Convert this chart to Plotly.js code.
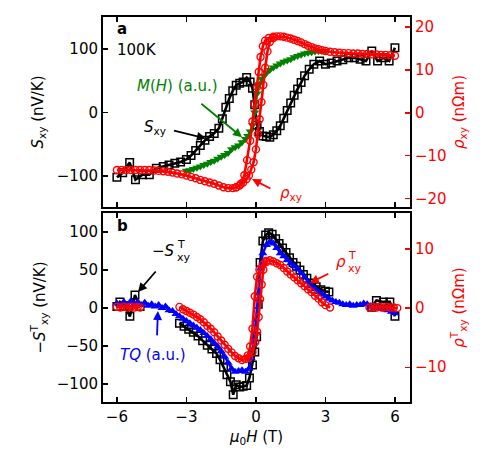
<!DOCTYPE html>
<html>
<head>
<meta charset="utf-8">
<script src="https://cdn.plot.ly/plotly-3.0.1.min.js"></script>
<style>
  html, body { margin: 0; padding: 0; background: #fff; }
  #chart { width: 502px; height: 473px; }
</style>
</head>
<body>
<div id="chart"></div>
<script>
// ---- panel a: 100 K field sweeps ----
const H_sxy = [-6.0,-5.75,-5.45,-5.2,-4.9,-4.6,-4.3,-4.0,-3.75,-3.5,-3.25,-3.0,-2.8,-2.6,-2.4,-2.2,-2.0,-1.8,-1.6,-1.45,-1.3,-1.15,-1.0,-0.85,-0.7,-0.55,-0.4,-0.25,-0.15,-0.05,0.05,0.15,0.3,0.45,0.6,0.75,0.9,1.05,1.2,1.35,1.5,1.65,1.8,1.95,2.1,2.3,2.5,2.75,3.0,3.25,3.5,3.75,4.0,4.25,4.5,4.75,5.0,5.25,5.5,5.75,6.0];
const S_xy  = [-102,-95,-79,-106,-98,-98,-88,-85,-83,-80,-78,-74,-68,-60,-52,-44,-38,-33,-25,-10,8,22,34,43,46,48,55,48,38,12,-20,-30,-37,-38,-39,-35,-29,-21,-9,3,15,27,37,47,58,68,76,81,76,78,81,83,86,86,84,81,97,81,86,81,102];

const H_mag = [-3.0,-2.85,-2.7,-2.55,-2.4,-2.25,-2.1,-1.95,-1.8,-1.65,-1.5,-1.35,-1.2,-1.05,-0.9,-0.75,-0.6,-0.45,-0.35,-0.25,-0.15,-0.05,0.05,0.15,0.25,0.35,0.45,0.6,0.75,0.9,1.05,1.2,1.35,1.5,1.65,1.8,1.95,2.1,2.25,2.4,2.55,2.7,2.85,3.0];
const M_H   = [-92,-91,-89,-87,-85,-83,-81,-78,-76,-73,-70,-67,-64,-58,-55,-52,-47,-42,-37,-30,-20,0,30,45,53,58,62,67,71,74,77,80,82,84,87,89,91,93,94,95,96,97,97,97];

const H_rho1 = [-6.0,-5.8,-5.6,-5.4,-5.2,-5.0,-4.8,-4.6,-4.4,-4.2,-4.0,-3.8,-3.6,-3.4,-3.2,-3.0,-2.8,-2.6,-2.4,-2.2,-2.0,-1.8,-1.6,-1.4,-1.2,-1.0,-0.85,-0.7,-0.55,-0.4,-0.3,-0.2,-0.1,0.0,0.08,0.16,0.24,0.32,0.4,0.5,0.6,0.75,0.9,1.05,1.2,1.35,1.5,1.65,1.8,1.95,2.1,2.25,2.4,2.55,2.7,2.85,3.0,3.2,3.4,3.6,3.8,4.0,4.2,4.4,4.6,4.8,5.0,5.2,5.4,5.6,5.8,6.0];
const RHO1   = [-13.3,-13.3,-13.3,-13.3,-13.3,-13.3,-13.3,-13.3,-13.4,-13.5,-13.6,-13.7,-13.9,-14.1,-14.3,-14.6,-14.9,-15.2,-15.6,-15.9,-16.2,-16.5,-16.9,-17.3,-17.5,-17.5,-17.3,-16.9,-16.2,-15.4,-14.6,-13.2,-11.5,-8.5,-5,-1.5,2.5,6.5,10.5,14.3,16.5,17.4,17.8,17.8,17.7,17.5,17.3,17.0,16.7,16.4,16.0,15.6,15.3,15.0,14.8,14.6,14.4,14.2,14.1,14.0,13.9,13.9,13.8,13.8,13.7,13.7,13.6,13.6,13.5,13.5,13.4,13.3];
const H_rho2 = [-0.85,-0.65,-0.5,-0.38,-0.25,-0.15,-0.05,0.05,0.12,0.2,0.3,0.4,0.55,0.75];
const RHO2   = [-17.3,-16.5,-14.5,-11,-6.5,-2,2,6,9.5,13,15.5,16.8,17.4,17.7];

// ---- panel b: topological parts ----
const H_st = [-6.0,-5.87,-5.65,-5.44,-5.22,-5.0,null,-3.3,-3.1,-2.9,-2.7,-2.5,-2.3,-2.1,-1.9,-1.7,-1.55,-1.4,-1.25,-1.1,-0.98,-0.85,-0.7,-0.55,-0.4,-0.28,-0.15,-0.05,0.03,0.1,0.18,0.3,0.42,0.55,0.7,0.85,1.0,1.15,1.3,1.45,1.6,1.75,1.9,2.05,2.2,2.4,2.6,2.8,3.0,3.15,null,5.0,5.2,5.5,5.78,6.0];
const ST   = [2,8,3,-11,17,2,null,-20,-24,-28,-32,-37,-43,-49,-54,-60,-68,-78,-88,-97,-114,-101,-104,-103,-102,-92,-75,-58,-38,5,60,88,96,99,97,91,85,79,73,66,60,55,50,44,39,33,28,24,22,21,null,1,10,8,8,-11];

const H_tq = [-6.0,-5.85,-5.7,-5.55,-5.4,-5.25,-5.1,-4.95,-4.8,-4.65,-4.5,-4.35,-4.2,-4.05,-3.9,-3.75,-3.6,-3.45,-3.3,-3.15,-3.0,-2.85,-2.7,-2.55,-2.4,-2.25,-2.1,-1.95,-1.8,-1.65,-1.5,-1.35,-1.2,-1.05,-0.9,-0.75,-0.6,-0.45,-0.3,-0.2,-0.1,0.0,0.1,0.2,0.3,0.45,0.6,0.75,0.9,1.05,1.2,1.35,1.5,1.65,1.8,1.95,2.1,2.25,2.4,2.55,2.7,2.85,3.0,3.15,3.3,3.45,3.6,3.75,3.9,4.05,4.2,4.35,4.5,4.65,4.8,4.95,5.1,5.25,5.4,5.55,5.7,5.85,6.0];
const TQ   = [6,3,8,4,9,5,8,4,7,3,5,2,4,0,2,-3,-4,-8,-11,-14,-17,-20,-23,-26,-29,-33,-37,-41,-46,-51,-57,-64,-72,-80,-84,-83,-82,-84,-80,-66,-45,-15,19,52,72,83,87,85,79,72,68,63,59,55,51,46,40,34,29,25,21,18,15,12,10,8,7,5,4,5,3,4,4,6,5,2,0,1,-1,-2,-3,-5,-7];

const H_rt1 = [-6.0,-5.85,-5.7,-5.55,-5.4,-5.25,-5.1,-5.0,null,-3.3,-3.15,-3.0,-2.85,-2.7,-2.55,-2.4,-2.25,-2.1,-1.95,-1.8,-1.65,-1.5,-1.35,-1.2,-1.05,-0.9,-0.75,-0.6,-0.45,-0.35,-0.25,-0.15,-0.05,0.05,0.15,0.3,0.45,0.6,0.75,0.9,1.05,1.2,1.35,1.5,1.65,1.8,1.95,2.1,2.25,2.4,2.55,2.7,2.85,3.0,3.2,null,4.9,5.05,5.2,5.35,5.5,5.65,5.8,5.95,6.1];
const RT1   = [0.2,0.1,0.2,0.1,0.2,0.1,0.2,0.1,null,0.2,-0.2,-0.5,-0.8,-1.1,-1.5,-1.9,-2.4,-3.0,-3.5,-4.1,-4.8,-5.5,-6.2,-6.9,-7.5,-8.1,-8.5,-8.8,-8.6,-8.0,-6.5,-3.5,2.0,5.3,6.5,7.4,8.0,8.1,7.9,7.6,7.3,6.8,6.2,5.7,5.2,4.7,4.2,3.7,3.2,2.7,2.1,1.6,1.0,0.5,0.1,null,0.1,0.2,0.1,0.2,0.1,0.2,0.1,0.1,0.0];
const H_rt2 = [-0.45,-0.3,-0.15,-0.03,0.05,0.12,0.18,0.25,0.32,0.45];
const RT2   = [-8.6,-8.4,-7.5,-5.8,-4,-1.5,1.5,4,6.5,7.8];

const xTicks = [-6,-3,0,3,6];

const BLACK = '#000000', RED = '#ff0000', GREEN = '#008000', BLUE = '#0000ff';
const FONT = 'DejaVu Sans, sans-serif';

function squares(x, y, xa, ya) {
  return {x, y, xaxis: xa, yaxis: ya, type: 'scatter', mode: 'lines+markers', connectgaps: false,
    line: {color: BLACK, width: 2.6},
    marker: {symbol: 'square-open', size: 7.5, color: BLACK, line: {width: 1.5}}};
}
function circles(x, y, xa, ya) {
  return {x, y, xaxis: xa, yaxis: ya, type: 'scatter', mode: 'lines+markers', connectgaps: false,
    line: {color: RED, width: 2.6},
    marker: {symbol: 'circle-open', size: 7, color: RED, line: {width: 1.4}}};
}
function triangles(x, y, xa, ya, color, sym) {
  return {x, y, xaxis: xa, yaxis: ya, type: 'scatter', mode: 'lines+markers',
    line: {color: color, width: 2.4},
    marker: {symbol: sym, size: 8, color: color}};
}

const traces = [
  squares(H_sxy, S_xy, 'x', 'y'),
  triangles(H_mag, M_H, 'x', 'y', GREEN, 'triangle-down'),
  circles(H_rho1, RHO1, 'x', 'y2'),
  circles(H_rho2, RHO2, 'x', 'y2'),
  squares(H_st, ST, 'x2', 'y3'),
  triangles(H_tq, TQ, 'x2', 'y3', BLUE, 'triangle-up'),
  circles(H_rt1, RT1, 'x2', 'y4'),
  circles(H_rt2, RT2, 'x2', 'y4')
];

const frame = {showline: true, linecolor: BLACK, linewidth: 2, ticks: 'inside', ticklen: 5,
  tickwidth: 1.3, tickcolor: BLACK, zeroline: false, showgrid: false,
  tickfont: {family: FONT, size: 15, color: BLACK}};

function txt(xref, yref, x, y, text, color, opts) {
  return Object.assign({xref, yref, x, y, text, showarrow: false, borderpad: 0,
    font: {family: FONT, size: 15, color: color}}, opts || {});
}
function small(xref, yref, x, y, text, color) {
  return txt(xref, yref, x, y, text, color, {xanchor: 'left', font: {family: FONT, size: 11, color: color}});
}
function arrow(xref, yref, x, y, ax, ay, color) {
  return {xref, yref, axref: xref, ayref: yref, x, y, ax, ay, text: '', showarrow: true,
    arrowhead: 2, arrowsize: 1, arrowwidth: 1.8, arrowcolor: color};
}

const layout = {
  width: 502, height: 473,
  margin: {l: 103, r: 92, t: 17, b: 71},
  paper_bgcolor: '#fff', plot_bgcolor: 'rgba(0,0,0,0)',
  showlegend: false,
  font: {family: FONT, size: 15, color: BLACK},
  xaxis: Object.assign({}, frame, {domain: [0, 1], anchor: 'y', range: [-6.6, 6.65],
    tickvals: xTicks, showticklabels: false, mirror: 'ticks'}),
  xaxis2: Object.assign({}, frame, {domain: [0, 1], anchor: 'y3', range: [-6.6, 6.65],
    tickvals: xTicks, ticktext: ['\u22126', '\u22123', '0', '3', '6'], mirror: 'ticks',
    title: {text: '<i>\u03bc</i><sub>0</sub><i>H</i> (T)', font: {family: FONT, size: 15}, standoff: 6}}),
  yaxis: Object.assign({}, frame, {domain: [0.5065, 1], anchor: 'x', range: [-149, 150.4],
    tickvals: [-100, 0, 100], ticktext: ['\u2212100', '0', '100'],
    title: {text: '<i>S</i><sub>xy</sub> (nV/K)', font: {family: FONT, size: 15}, standoff: 10}}),
  yaxis2: Object.assign({}, frame, {overlaying: 'y', side: 'right', anchor: 'x', range: [-21.9, 22.3],
    tickvals: [-20, -10, 0, 10, 20], ticktext: ['\u221220', '\u221210', '0', '10', '20'],
    tickcolor: RED, tickfont: {family: FONT, size: 15, color: RED},
    title: {text: '<i>\u03c1</i><sub>xy</sub> (n\u03a9m)', font: {family: FONT, size: 15, color: RED}, standoff: 8}}),
  yaxis3: Object.assign({}, frame, {domain: [0, 0.4909], anchor: 'x2', range: [-123.7, 125],
    tickvals: [-100, -50, 0, 50, 100], ticktext: ['\u2212100', '\u221250', '0', '50', '100'],
    title: {text: '\u2212<i>S</i><sup>T</sup><sub>xy</sub> (nV/K)', font: {family: FONT, size: 15}, standoff: 8}}),
  yaxis4: Object.assign({}, frame, {overlaying: 'y3', side: 'right', anchor: 'x2', range: [-15.9, 16.1],
    tickvals: [-10, 0, 10], ticktext: ['\u221210', '0', '10'],
    tickcolor: RED, tickfont: {family: FONT, size: 15, color: RED},
    title: {text: '<i>\u03c1</i><sup>T</sup><sub>xy</sub> (n\u03a9m)', font: {family: FONT, size: 15, color: RED}, standoff: 8}}),
  annotations: [
    txt('x', 'y', -6.05, 131, '<b>a</b>', BLACK, {xanchor: 'left'}),
    txt('x', 'y', -6.05, 99, '100K', BLACK, {xanchor: 'left'}),
    txt('x', 'y', -3.37, 41, '<i>M</i>(<i>H</i>) (a.u.)', GREEN),
    arrow('x', 'y', -0.6, -39, -2.42, 15.7, GREEN),
    txt('x', 'y', -3.84, -24, '<i>S</i><sub>xy</sub>', BLACK, {xanchor: 'right'}),
    arrow('x', 'y', -2.16, -41, -3.6, -28, BLACK),
    txt('x', 'y', 1.0, -128, '<i>\u03c1</i><sub>xy</sub>', RED, {xanchor: 'left'}),
    arrow('x', 'y', -0.17, -105, 0.69, -121, RED),

    txt('x2', 'y3', -6.05, 108, '<b>b</b>', BLACK, {xanchor: 'left'}),
    // -S with stacked T / xy
    txt('x2', 'y3', -3.45, 75, '\u2212<i>S</i>', BLACK, {xanchor: 'right'}),
    small('x2', 'y3', -3.47, 84, 'T', BLACK),
    small('x2', 'y3', -3.47, 66, 'xy', BLACK),
    arrow('x2', 'y3', -5.09, 21, -4.27, 50, BLACK),
    txt('x2', 'y3', -4.45, -62, '<i>TQ</i> (a.u.)', BLUE),
    arrow('x2', 'y3', -4.23, -4, -4.27, -38, BLUE),
    // rho with stacked T / xy
    txt('x2', 'y3', 3.93, 61, '<i>\u03c1</i>', RED, {xanchor: 'right'}),
    small('x2', 'y3', 3.91, 69, 'T', RED),
    small('x2', 'y3', 3.91, 52, 'xy', RED),
    arrow('x2', 'y3', 2.33, 33, 3.19, 46, RED)
  ]
};

Plotly.newPlot('chart', traces, layout, {staticPlot: true, displayModeBar: false});
</script>
</body>
</html>
